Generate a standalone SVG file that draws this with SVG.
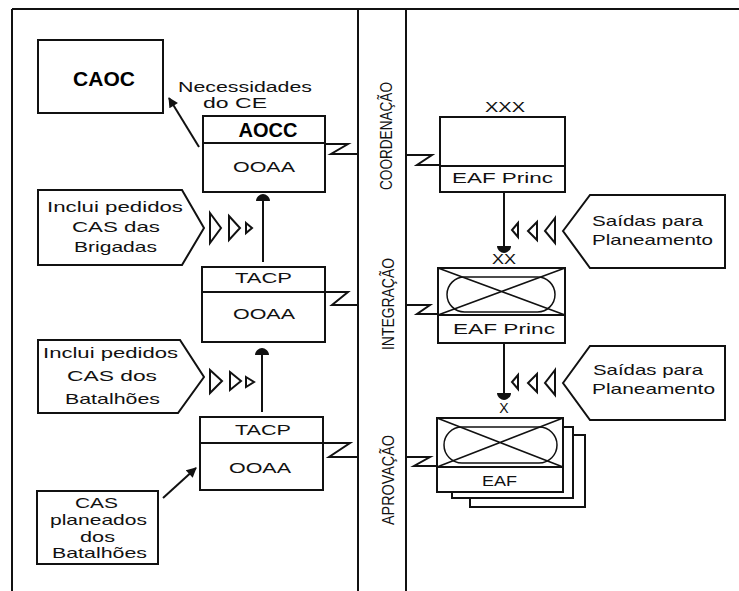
<svg xmlns="http://www.w3.org/2000/svg" width="739" height="591" viewBox="0 0 739 591">
<style>
.ln{fill:none;stroke:#111;stroke-width:2}
.bx{fill:#fff;stroke:#111;stroke-width:2}
.th{fill:none;stroke:#111;stroke-width:1.5}
.t{font-family:"Liberation Sans",Arial,sans-serif;font-size:14px;fill:#111}
.tp{font-family:"Liberation Sans",Arial,sans-serif;font-size:15px;fill:#111}
.tb{font-family:"Liberation Sans",Arial,sans-serif;font-weight:bold;fill:#000}
.tv{font-family:"Liberation Sans",Arial,sans-serif;font-size:17px;fill:#111}
.tri{fill:none;stroke:#111;stroke-width:2;stroke-linejoin:miter}
</style>
<defs>
<marker id="ah" viewBox="0 0 10 10" refX="9" refY="5" markerWidth="11" markerHeight="10" markerUnits="userSpaceOnUse" orient="auto"><path d="M0,0 L10,5 L0,10 Z" fill="#111"/></marker>
<marker id="dome" viewBox="0 -7 7 14" refX="1" refY="0" markerWidth="7" markerHeight="14" markerUnits="userSpaceOnUse" orient="auto"><path d="M0,-7 C4,-7 7,-3 7,0 C7,3 4,7 0,7 Z" fill="#111"/></marker>
</defs>
<rect x="0" y="0" width="739" height="591" fill="#fff"/>

<g id="frame">
<path class="ln" d="M12,9 H739 M12,9 V591 M358,9 V591 M406,9 V591"/>
</g>

<g id="labels-vertical">
<text class="tv" transform="translate(392,136) rotate(-90)" x="-54" y="0" textLength="108" lengthAdjust="spacingAndGlyphs">COORDENAÇÃO</text>
<text class="tv" transform="translate(394,304) rotate(-90)" x="-46" y="0" textLength="92" lengthAdjust="spacingAndGlyphs">INTEGRAÇÃO</text>
<text class="tv" transform="translate(394,480) rotate(-90)" x="-45" y="0" textLength="90" lengthAdjust="spacingAndGlyphs">APROVAÇÃO</text>
</g>

<g id="caoc">
<rect class="bx" x="38" y="40" width="125" height="73"/>
<text class="tb" x="104" y="86" font-size="21" text-anchor="middle">CAOC</text>
</g>

<g id="necessidades">
<text class="t" x="178" y="92" textLength="134" lengthAdjust="spacingAndGlyphs">Necessidades</text>
<text class="t" x="203" y="108" textLength="64" lengthAdjust="spacingAndGlyphs">do  CE</text>
</g>

<g id="aocc">
<rect class="bx" x="203" y="116" width="122" height="76"/>
<line class="ln" x1="203" y1="143" x2="325" y2="143"/>
<text class="tb" x="268" y="137" font-size="20" text-anchor="middle">AOCC</text>
<text class="t" x="233" y="172" textLength="62" lengthAdjust="spacingAndGlyphs">OOAA</text>
</g>

<g id="brigadas">
<polygon class="bx" points="38,190 182,190 204,228 182,265 38,265"/>
<text class="tp" x="47" y="212" textLength="136" lengthAdjust="spacingAndGlyphs">Inclui  pedidos</text>
<text class="tp" x="72" y="232" textLength="88" lengthAdjust="spacingAndGlyphs">CAS  das</text>
<text class="tp" x="74" y="252" textLength="83" lengthAdjust="spacingAndGlyphs">Brigadas</text>
</g>

<g id="tacp-mid">
<rect class="bx" x="202" y="267" width="123" height="75"/>
<line class="ln" x1="202" y1="292" x2="325" y2="292"/>
<text class="t" x="235" y="283" textLength="57" lengthAdjust="spacingAndGlyphs">TACP</text>
<text class="t" x="233" y="319" textLength="62" lengthAdjust="spacingAndGlyphs">OOAA</text>
</g>

<g id="batalhoes">
<polygon class="bx" points="38,340 180,340 204,377 178,413 38,413"/>
<text class="tp" x="43" y="358" textLength="135" lengthAdjust="spacingAndGlyphs">Inclui  pedidos</text>
<text class="tp" x="67" y="381" textLength="90" lengthAdjust="spacingAndGlyphs">CAS  dos</text>
<text class="tp" x="65" y="404" textLength="95" lengthAdjust="spacingAndGlyphs">Batalhões</text>
</g>

<g id="tacp-low">
<rect class="bx" x="200" y="417" width="123" height="73"/>
<line class="ln" x1="200" y1="443" x2="323" y2="443"/>
<text class="t" x="235" y="435" textLength="56" lengthAdjust="spacingAndGlyphs">TACP</text>
<text class="t" x="229" y="473" textLength="62" lengthAdjust="spacingAndGlyphs">OOAA</text>
</g>

<g id="cas-planeados">
<rect class="bx" x="37" y="491" width="121" height="73"/>
<text class="tp" x="75" y="508" textLength="43" lengthAdjust="spacingAndGlyphs">CAS</text>
<text class="tp" x="50" y="525" textLength="97" lengthAdjust="spacingAndGlyphs">planeados</text>
<text class="tp" x="80" y="542" textLength="35" lengthAdjust="spacingAndGlyphs">dos</text>
<text class="tp" x="52" y="558" textLength="95" lengthAdjust="spacingAndGlyphs">Batalhões</text>
</g>

<g id="eaf-xxx">
<text class="t" x="485" y="112" textLength="40" lengthAdjust="spacingAndGlyphs">XXX</text>
<rect class="bx" x="440" y="117" width="125" height="75"/>
<line class="ln" x1="440" y1="166" x2="565" y2="166"/>
<text class="t" x="452" y="183" textLength="101" lengthAdjust="spacingAndGlyphs">EAF  Princ</text>
</g>

<g id="saidas-1">
<polygon class="bx" points="563,231 590,195 725,195 725,268 590,268"/>
<text class="tp" x="592" y="226" textLength="111" lengthAdjust="spacingAndGlyphs">Saídas  para</text>
<text class="tp" x="592" y="245" textLength="121" lengthAdjust="spacingAndGlyphs">Planeamento</text>
</g>

<g id="eaf-xx">
<text class="t" x="492" y="264" textLength="24" lengthAdjust="spacingAndGlyphs">XX</text>
<rect class="bx" x="438" y="268" width="127" height="75"/>
<line class="ln" x1="438" y1="315" x2="565" y2="315"/>
<rect class="th" x="447" y="277" width="108" height="35" rx="17.5"/>
<path class="th" d="M438,268 L565,315 M565,268 L438,315"/>
<text class="t" x="453" y="334" textLength="102" lengthAdjust="spacingAndGlyphs">EAF  Princ</text>
</g>

<g id="saidas-2">
<polygon class="bx" points="563,383 590,346 725,346 725,420 590,420"/>
<text class="tp" x="593" y="375" textLength="110" lengthAdjust="spacingAndGlyphs">Saídas  para</text>
<text class="tp" x="592" y="394" textLength="123" lengthAdjust="spacingAndGlyphs">Planeamento</text>
</g>

<g id="eaf-x">
<text class="t" x="504" y="413" text-anchor="middle" font-size="15">X</text>
<rect class="bx" x="470" y="435" width="115" height="72"/>
<rect class="bx" x="452" y="427" width="121" height="71"/>
<rect class="bx" x="437" y="418" width="126" height="74"/>
<line class="ln" x1="437" y1="467" x2="563" y2="467"/>
<rect class="th" x="444" y="427" width="113" height="36" rx="18"/>
<path class="th" d="M437,418 L563,467 M563,418 L437,467"/>
<text class="t" x="482" y="486" textLength="35" lengthAdjust="spacingAndGlyphs">EAF</text>
</g>

<g id="connectors">
<line class="ln" x1="199" y1="147" x2="169" y2="98" marker-end="url(#ah)"/>
<line class="ln" x1="163" y1="498" x2="196" y2="468" marker-end="url(#ah)"/>
<line class="ln" x1="263" y1="262" x2="263" y2="200" marker-end="url(#dome)"/>
<line class="ln" x1="262" y1="412" x2="262" y2="354" marker-end="url(#dome)"/>
<line class="ln" x1="504" y1="193" x2="504" y2="247" marker-end="url(#dome)"/>
<line class="ln" x1="504" y1="343" x2="504" y2="394" marker-end="url(#dome)"/>
<polyline class="ln" points="325,144 348,144 331,154 358,154"/>
<polyline class="ln" points="325,292 348,292 332,305 358,305"/>
<polyline class="ln" points="323,443 350,443 329,457 358,457"/>
<polyline class="ln" points="406,155 432,155 417,165 440,165"/>
<polyline class="ln" points="406,305 430,305 417,314 438,314"/>
<polyline class="ln" points="406,457 430,457 414,466 437,466"/>
<polygon class="tri" points="210,213 221,228 210,243"/>
<polygon class="tri" points="229,216 240,228 229,240" stroke-width="2.5"/>
<polygon class="tri" points="246,223 252,228 246,233"/>
<polygon class="tri" points="210,370 222,381 210,393"/>
<polygon class="tri" points="230,372 241,381 230,390"/>
<polygon class="tri" points="246,377 254,382 246,387"/>
<polygon class="tri" points="518,223 512,230 518,237"/>
<polygon class="tri" points="537,222 528,231 537,240"/>
<polygon class="tri" points="555,218 545,231 555,243"/>
<polygon class="tri" points="518,375 512,382 518,389"/>
<polygon class="tri" points="537,374 528,383 537,392"/>
<polygon class="tri" points="555,370 545,383 555,395"/>
</g>
</svg>
